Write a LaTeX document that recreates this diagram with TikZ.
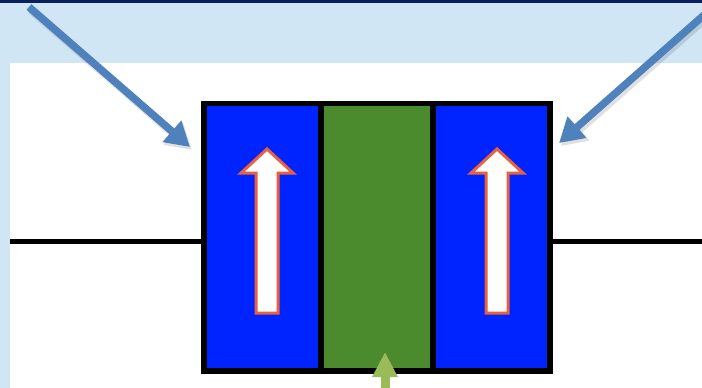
\documentclass[tikz,border=0pt]{standalone}
\usetikzlibrary{arrows.meta}
\definecolor{navy}{HTML}{0B1F5E}
\definecolor{paleblue}{HTML}{D0E6F5}
\definecolor{layerblue}{HTML}{0024FF}
\definecolor{layergreen}{HTML}{4B8B2E}
\definecolor{pointer}{HTML}{4F81BD}
\definecolor{spinred}{HTML}{E8603C}
\definecolor{pointergreen}{HTML}{9BBB59}
\tikzset{
  layer/.style={draw=black, line width=5.5pt, minimum height=267.5pt, inner sep=0pt},
  wire/.style={draw=black, line width=5pt},
  bluepointer/.style={pointer, line width=7.5pt, -{Triangle[length=24pt,width=27pt]}},
  pointershadow/.style={black, opacity=0.12, line width=8pt, -{Triangle[length=25pt,width=28pt]}},
  spinarrow/.pic={
    \draw[spinred, line width=3pt, fill=white, line join=miter]
      (-11,313) -- (-11,173) -- (-26,173) -- (0,149) -- (26,173) -- (11,173) -- (11,313) -- cycle;
  }
}
\begin{document}
\begin{tikzpicture}[x=1pt, y=-1pt]
\useasboundingbox (0,0) rectangle (702,388);
% slide background and content panel
\fill[paleblue] (0,0) rectangle (702,388);
\fill[navy] (0,0) rectangle (702,2.5);
\fill[white] (10,63) rectangle (702,388);

% the three layers of the stack
\node[layer, fill=layerblue, minimum width=117pt] (layerL) at (262.5,237.25) {};
\node[layer, fill=layerblue, minimum width=117pt] (layerR) at (491.5,237.25) {};
\node[layer, fill=layergreen, minimum width=112pt] (layerM) at (377,237.25) {};

% leads
\coordinate (leadL) at (10,241);
\coordinate (leadR) at (702,241);
\draw[wire] (leadL) -- (leadL -| layerL.west);
\draw[wire] (leadR) -- (leadR -| layerR.east);

% magnetisation arrows
\pic at (267,0) {spinarrow};
\pic at (497,0) {spinarrow};

% pointers
\coordinate (p1s) at (29,7);
\coordinate (p1e) at (190,147);
\coordinate (p2s) at (712,8);
\coordinate (p2e) at (559,143);
\coordinate (p3s) at (385,400);
\coordinate (p3e) at (385,352);
\draw[pointershadow] ([shift={(2,3)}]p1s) -- ([shift={(2,3)}]p1e);
\draw[pointershadow] ([shift={(2,3)}]p2s) -- ([shift={(2,3)}]p2e);
\draw[bluepointer] (p1s) -- (p1e);
\draw[bluepointer] (p2s) -- (p2e);
\draw[pointergreen, line width=9pt, -{Triangle[length=25pt,width=24pt]}] (p3s) -- (p3e);
\end{tikzpicture}
\end{document}
